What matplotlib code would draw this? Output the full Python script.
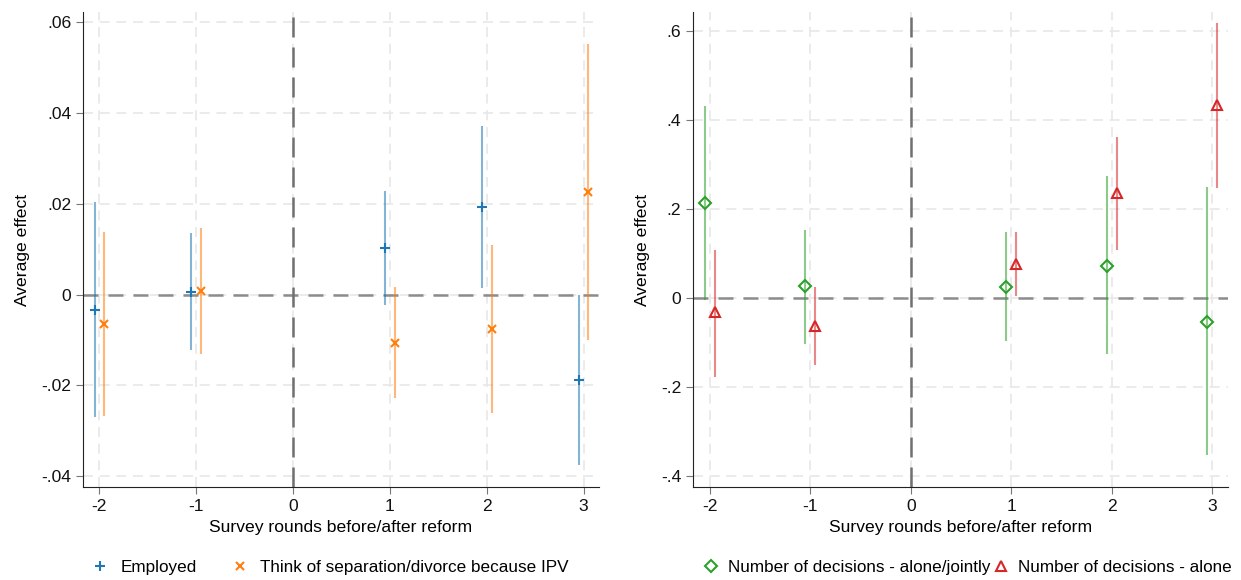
import matplotlib.pyplot as plt
import numpy as np

plt.rcParams['font.family'] = ['Liberation Sans', 'DejaVu Sans']

rounds = [-2, -1, 1, 2, 3]
xticks = [-2, -1, 0, 1, 2, 3]

# left panel
emp = [-0.0034, 0.0006, 0.0103, 0.0193, -0.0189]
emp_lo = [-0.0271, -0.0123, -0.0023, 0.0015, -0.0376]
emp_hi = [0.0204, 0.0136, 0.0229, 0.0371, 0.0000]
sep = [-0.0066, 0.0008, -0.0107, -0.0076, 0.0226]
sep_lo = [-0.0268, -0.0131, -0.0228, -0.0262, -0.0101]
sep_hi = [0.0137, 0.0146, 0.0017, 0.0110, 0.0553]

# right panel
joint = [0.214, 0.027, 0.025, 0.073, -0.053]
joint_lo = [-0.004, -0.102, -0.096, -0.126, -0.353]
joint_hi = [0.431, 0.154, 0.148, 0.274, 0.249]
alone = [-0.032, -0.062, 0.076, 0.237, 0.434]
alone_lo = [-0.177, -0.151, 0.004, 0.109, 0.248]
alone_hi = [0.109, 0.024, 0.148, 0.362, 0.619]

left_yticks = [-0.04, -0.02, 0, 0.02, 0.04, 0.06]
left_ylabels = ['-.04', '-.02', '0', '.02', '.04', '.06']
right_yticks = [-0.4, -0.2, 0, 0.2, 0.4, 0.6]
right_ylabels = ['-.4', '-.2', '0', '.2', '.4', '.6']

FS = 12.6
LFS = 12.3

fig = plt.figure(figsize=(12.41, 5.8), dpi=100)
ax1 = fig.add_axes([0.0669, 0.1598, 0.4158, 0.8195])
ax2 = fig.add_axes([0.5584, 0.1598, 0.4311, 0.8195])


def series(ax, y, lo, hi, off, color, marker, label, ms, hollow=False):
    x = np.array(rounds) + off
    ax.vlines(x, lo, hi, color=color, alpha=0.55, lw=1.5, zorder=3)
    if hollow:
        ax.plot(x, y, ls='none', marker=marker, ms=ms, mfc='none', mec=color,
                mew=1.5, zorder=4, label=label)
    else:
        ax.plot(x, y, ls='none', marker=marker, ms=ms, color=color, mew=1.5,
                zorder=4, label=label)


def style(ax, yt, yl, ylim):
    ax.set_xlim(-2.17, 3.16)
    ax.set_ylim(*ylim)
    ax.set_xticks(xticks)
    ax.set_xticklabels([str(v) for v in xticks])
    ax.set_yticks(yt)
    ax.set_yticklabels(yl)
    ax.grid(True, ls=(0, (6, 4)), color='#e8e8e8', lw=1.2, zorder=0)
    ax.axhline(0, color='#8c8c8c', ls=(0, (6, 4)), lw=1.8, zorder=2)
    ax.axvline(0, color='#707070', ls=(0, (8, 4)), lw=1.8, zorder=2)
    for s in ['top', 'right']:
        ax.spines[s].set_visible(False)
    for s in ['left', 'bottom']:
        ax.spines[s].set_color('#222222')
    ax.tick_params(axis='both', direction='out', length=5, color='#777777',
                   labelsize=FS, labelcolor='#111111')
    ax.set_xlabel('Survey rounds before/after reform', fontsize=FS, labelpad=4)
    ax.set_ylabel('Average effect', fontsize=FS, labelpad=8)


series(ax1, emp, emp_lo, emp_hi, -0.05, '#1f77b4', '+', 'Employed', 6.5)
series(ax1, sep, sep_lo, sep_hi, 0.05, '#ff7f0e', 'x', 'Think of separation/divorce because IPV', 6)
style(ax1, left_yticks, left_ylabels, (-0.0425, 0.0623))

series(ax2, joint, joint_lo, joint_hi, -0.05, '#2ca02c', 'D', 'Number of decisions - alone/jointly', 6, hollow=True)
series(ax2, alone, alone_lo, alone_hi, 0.05, '#d62728', '^', 'Number of decisions - alone', 6.5, hollow=True)
style(ax2, right_yticks, right_ylabels, (-0.425, 0.643))

ax1.legend(loc='center', bbox_to_anchor=(0.479, -0.168), ncol=2, frameon=False,
           fontsize=LFS, handlelength=1, handletextpad=0.7, columnspacing=2.0,
           borderaxespad=0, borderpad=0)
ax2.legend(loc='center', bbox_to_anchor=(0.513, -0.168), ncol=2, frameon=False,
           fontsize=LFS, handlelength=1, handletextpad=0.5, columnspacing=0.1,
           borderaxespad=0, borderpad=0)

fig.savefig('out.png', dpi=100)
